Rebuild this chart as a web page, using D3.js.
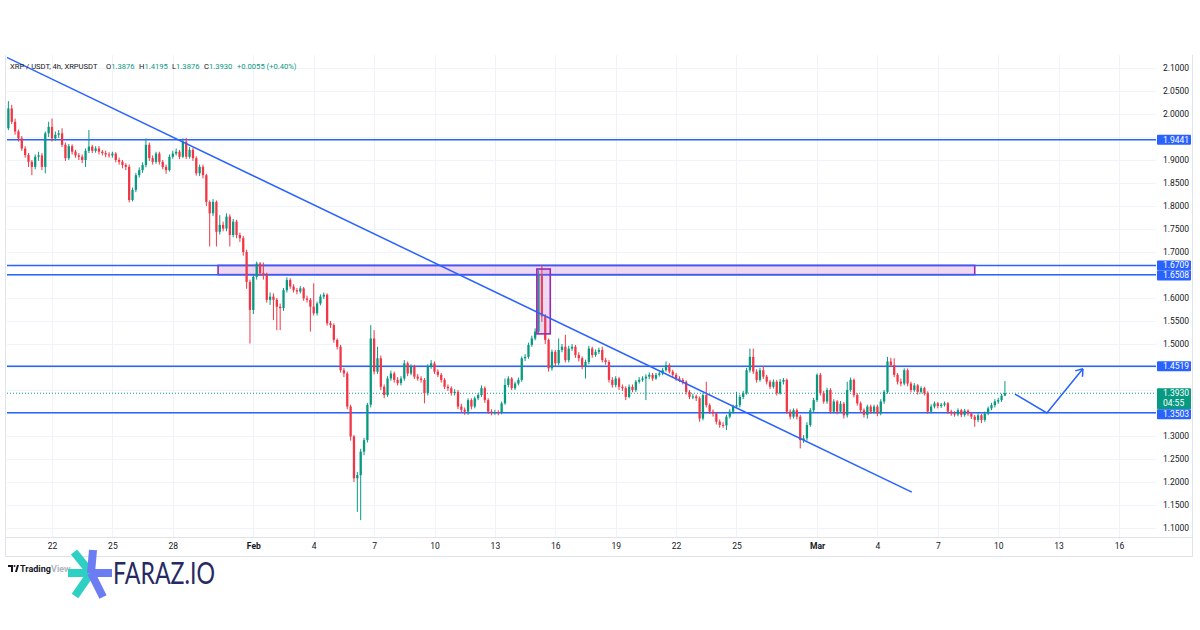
<!DOCTYPE html>
<html>
<head>
<meta charset="utf-8">
<style>
  body { margin: 0; background: #fff; }
  svg { display: block; font-family: Roboto, "Liberation Sans", Arial, sans-serif; }
</style>
</head>
<body>
<svg id="chart" width="1200" height="630"></svg>
<script src="https://cdn.jsdelivr.net/npm/d3@7"></script>
<script>
// XRP/USDT 4h candles. open of a candle = close of the one before
var firstCandle = "2025-01-19T20:00:00Z";
var firstOpen = 1.969;
var closes = [
  2.012,1.983,1.962,1.947,1.925,1.911,1.896,1.885,1.907,1.910,
  1.885,1.958,1.972,1.947,1.955,1.958,1.933,1.904,1.930,1.918,
  1.910,1.907,1.900,1.920,1.929,1.920,1.925,1.918,1.915,1.912,
  1.910,1.914,1.900,1.896,1.889,1.885,1.813,1.835,1.867,1.878,
  1.889,1.933,1.904,1.896,1.914,1.896,1.885,1.878,1.907,1.914,
  1.918,1.907,1.940,1.907,1.922,1.904,1.871,1.885,1.867,1.809,
  1.784,1.809,1.744,1.759,1.751,1.777,1.737,1.766,1.737,1.730,
  1.700,1.635,1.574,1.646,1.675,1.654,1.650,1.596,1.603,1.596,
  1.581,1.578,1.617,1.639,1.625,1.617,1.614,1.621,1.599,1.596,
  1.581,1.567,1.588,1.603,1.607,1.545,1.541,1.509,1.494,1.443,
  1.436,1.364,1.299,1.208,1.215,1.266,1.291,1.368,1.512,1.440,
  1.469,1.407,1.389,1.425,1.436,1.422,1.415,1.425,1.458,1.436,
  1.451,1.429,1.425,1.422,1.393,1.451,1.458,1.440,1.433,1.422,
  1.407,1.404,1.393,1.396,1.364,1.357,1.353,1.378,1.364,1.382,
  1.389,1.404,1.378,1.353,1.350,1.352,1.351,1.371,1.411,1.425,
  1.404,1.414,1.422,1.469,1.472,1.498,1.512,1.527,1.650,1.560,
  1.509,1.447,1.483,1.458,1.487,1.494,1.465,1.490,1.494,1.476,
  1.469,1.451,1.461,1.490,1.476,1.483,1.487,1.465,1.461,1.422,
  1.411,1.425,1.407,1.404,1.385,1.407,1.400,1.418,1.422,1.425,
  1.429,1.433,1.425,1.433,1.436,1.443,1.454,1.440,1.433,1.425,
  1.422,1.418,1.396,1.385,1.386,1.382,1.338,1.389,1.367,1.353,
  1.349,1.331,1.324,1.323,1.342,1.353,1.364,1.367,1.385,1.393,
  1.443,1.472,1.440,1.422,1.443,1.429,1.418,1.407,1.418,1.393,
  1.418,1.422,1.353,1.342,1.356,1.342,1.291,1.295,1.324,1.356,
  1.378,1.433,1.393,1.375,1.400,1.353,1.375,1.353,1.370,1.345,
  1.400,1.422,1.389,1.371,1.356,1.346,1.364,1.353,1.364,1.349,
  1.375,1.396,1.462,1.454,1.433,1.418,1.414,1.443,1.414,1.400,
  1.410,1.396,1.404,1.393,1.353,1.364,1.371,1.365,1.368,1.371,
  1.353,1.349,1.347,1.356,1.346,1.355,1.349,1.342,1.335,1.345,
  1.335,1.349,1.360,1.367,1.375,1.378,1.3876,1.3930
];
var highs = [
  2.028,2.020,1.990,1.966,1.952,1.930,1.915,1.900,1.912,1.918,
  1.915,1.962,1.983,1.990,1.962,1.965,1.969,1.938,1.935,1.934,
  1.922,1.915,1.912,1.925,1.965,1.933,1.930,1.930,1.922,1.920,
  1.917,1.918,1.917,1.905,1.900,1.893,1.890,1.840,1.872,1.884,
  1.895,1.947,1.938,1.910,1.918,1.918,1.900,1.890,1.912,1.920,
  1.925,1.922,1.947,1.948,1.928,1.926,1.908,1.890,1.890,1.870,
  1.812,1.815,1.812,1.780,1.766,1.784,1.782,1.772,1.770,1.742,
  1.735,1.705,1.640,1.650,1.679,1.678,1.677,1.655,1.612,1.610,
  1.600,1.588,1.622,1.645,1.643,1.630,1.622,1.626,1.624,1.605,
  1.600,1.632,1.592,1.608,1.612,1.610,1.550,1.545,1.512,1.498,
  1.448,1.440,1.368,1.302,1.222,1.272,1.296,1.372,1.541,1.530,
  1.494,1.475,1.412,1.430,1.442,1.440,1.428,1.430,1.465,1.462,
  1.456,1.455,1.435,1.430,1.426,1.456,1.465,1.462,1.445,1.437,
  1.426,1.412,1.408,1.402,1.400,1.370,1.362,1.382,1.382,1.386,
  1.394,1.410,1.408,1.382,1.358,1.357,1.356,1.375,1.425,1.430,
  1.428,1.418,1.427,1.473,1.478,1.503,1.518,1.534,1.660,1.671,
  1.565,1.512,1.488,1.487,1.512,1.500,1.520,1.496,1.500,1.498,
  1.482,1.473,1.466,1.496,1.494,1.488,1.492,1.494,1.470,1.465,
  1.428,1.430,1.428,1.412,1.408,1.412,1.412,1.422,1.428,1.430,
  1.434,1.438,1.437,1.437,1.440,1.448,1.462,1.458,1.444,1.437,
  1.430,1.426,1.421,1.400,1.392,1.390,1.386,1.393,1.418,1.371,
  1.358,1.352,1.336,1.330,1.346,1.358,1.368,1.396,1.390,1.398,
  1.448,1.490,1.490,1.445,1.448,1.452,1.433,1.422,1.423,1.422,
  1.424,1.426,1.425,1.358,1.360,1.360,1.346,1.302,1.330,1.361,
  1.383,1.436,1.437,1.398,1.405,1.404,1.380,1.378,1.376,1.374,
  1.418,1.427,1.425,1.393,1.375,1.360,1.368,1.368,1.368,1.368,
  1.380,1.400,1.472,1.470,1.469,1.437,1.425,1.447,1.447,1.418,
  1.415,1.413,1.408,1.407,1.397,1.369,1.375,1.374,1.372,1.375,
  1.374,1.357,1.354,1.360,1.359,1.359,1.358,1.352,1.346,1.349,
  1.348,1.353,1.364,1.372,1.380,1.383,1.392,1.4195
];
var lows = [
  1.965,1.978,1.955,1.940,1.920,1.905,1.885,1.867,1.880,1.898,
  1.878,1.871,1.950,1.940,1.942,1.948,1.928,1.898,1.900,1.912,
  1.905,1.900,1.893,1.885,1.915,1.915,1.916,1.912,1.910,1.906,
  1.905,1.905,1.895,1.890,1.882,1.878,1.808,1.810,1.830,1.862,
  1.872,1.884,1.898,1.890,1.892,1.890,1.880,1.870,1.875,1.903,
  1.910,1.902,1.904,1.902,1.903,1.898,1.866,1.865,1.860,1.800,
  1.712,1.778,1.712,1.738,1.745,1.745,1.712,1.732,1.730,1.722,
  1.692,1.620,1.501,1.565,1.640,1.648,1.640,1.590,1.585,1.552,
  1.530,1.530,1.572,1.612,1.620,1.612,1.608,1.610,1.594,1.590,
  1.527,1.562,1.562,1.584,1.598,1.540,1.535,1.503,1.488,1.438,
  1.428,1.358,1.290,1.200,1.135,1.117,1.258,1.286,1.362,1.434,
  1.435,1.400,1.382,1.385,1.420,1.416,1.410,1.410,1.420,1.430,
  1.432,1.424,1.420,1.416,1.371,1.388,1.446,1.435,1.428,1.416,
  1.402,1.398,1.388,1.388,1.358,1.350,1.346,1.346,1.358,1.360,
  1.378,1.385,1.372,1.348,1.345,1.346,1.345,1.347,1.368,1.406,
  1.400,1.400,1.410,1.418,1.463,1.468,1.494,1.508,1.523,1.548,
  1.500,1.440,1.442,1.452,1.454,1.482,1.460,1.460,1.485,1.470,
  1.462,1.445,1.425,1.456,1.470,1.472,1.478,1.460,1.455,1.416,
  1.405,1.406,1.400,1.398,1.378,1.382,1.395,1.396,1.414,1.418,
  1.378,1.424,1.420,1.422,1.429,1.432,1.440,1.436,1.428,1.420,
  1.417,1.412,1.390,1.380,1.380,1.376,1.331,1.334,1.362,1.348,
  1.342,1.325,1.318,1.318,1.313,1.338,1.349,1.360,1.362,1.380,
  1.390,1.438,1.435,1.416,1.418,1.424,1.412,1.402,1.403,1.388,
  1.390,1.412,1.348,1.336,1.338,1.336,1.273,1.285,1.290,1.320,
  1.352,1.374,1.388,1.370,1.370,1.348,1.349,1.347,1.350,1.338,
  1.340,1.396,1.384,1.366,1.350,1.340,1.338,1.348,1.349,1.343,
  1.345,1.370,1.392,1.450,1.428,1.412,1.408,1.410,1.408,1.395,
  1.396,1.390,1.392,1.388,1.348,1.349,1.360,1.360,1.361,1.364,
  1.348,1.344,1.342,1.343,1.341,1.342,1.344,1.337,1.320,1.330,
  1.328,1.331,1.345,1.356,1.362,1.370,1.374,1.3876
];

// drawings on the chart
var levels = [1.9441, 1.6709, 1.6508, 1.4519, 1.3503];
var trendTimes = ["2025-01-19T17:00:00Z", "2025-03-05T17:00:00Z"];
var trendPrices = [2.124, 1.178];
var zoneTimes = ["2025-01-30T06:00:00Z", "2025-03-08T20:00:00Z"];
var zonePrices = [1.6709, 1.6508];
var spikeTimes = ["2025-02-15T02:00:00Z", "2025-02-15T18:00:00Z"];
var spikePrices = [1.663, 1.522];
var pathTimes = ["2025-03-10T20:00:00Z", "2025-03-12T10:00:00Z", "2025-03-14T05:00:00Z"];
var pathPrices = [1.391, 1.350, 1.446];

var tickDates = ["2025-01-22","2025-01-25","2025-01-28","2025-02-01","2025-02-04","2025-02-07",
  "2025-02-10","2025-02-13","2025-02-16","2025-02-19","2025-02-22","2025-02-25","2025-03-01",
  "2025-03-04","2025-03-07","2025-03-10","2025-03-13","2025-03-16"];
var priceTicks = [1.10,1.15,1.20,1.25,1.30,1.35,1.40,1.45,1.50,1.55,1.60,1.65,1.70,1.75,1.80,1.85,1.90,1.95,2.00,2.05,2.10];

var header = {pair: "XRP / USDT, 4h, XRPUSDT", o: "1.3876", h: "1.4195", l: "1.3876", c: "1.3930", chg: "+0.0055 (+0.40%)"};
var lastClose = 1.3930, countdown = "04:55";

var up = "#089981", down = "#f23645", blue = "#2962ff", textCol = "#131722", gridCol = "#f0f3fa";
var plot = {left: 7, right: 1156, top: 55, bottom: 537};

var svg = d3.select("#chart");
svg.append("rect").attr("width", 1200).attr("height", 630).attr("fill", "#fff");

var x = d3.scaleUtc()
  .domain([new Date("2025-01-22T00:00:00Z"), new Date("2025-03-16T00:00:00Z")])
  .range([52, 1119]);
var y = d3.scaleLinear().domain([1.1, 2.1]).range([528, 68]);

var step = 4 * 3600 * 1000;
var t0 = new Date(firstCandle).getTime();
var candles = closes.map(function(c, i) {
  return {t: new Date(t0 + i * step), o: i ? closes[i - 1] : firstOpen, h: highs[i], l: lows[i], c: c};
});
var candleW = (x(new Date(t0 + step)) - x(new Date(t0))) * 0.68;

svg.append("clipPath").attr("id", "clip").append("rect")
  .attr("x", plot.left).attr("y", plot.top - 5)
  .attr("width", plot.right - plot.left).attr("height", plot.bottom - plot.top + 5);

// grid
var grid = svg.append("g");
grid.selectAll(".vg").data(tickDates).enter().append("line")
  .attr("x1", function(d) { return Math.round(x(new Date(d))) + 0.5; })
  .attr("x2", function(d) { return Math.round(x(new Date(d))) + 0.5; })
  .attr("y1", plot.top).attr("y2", plot.bottom)
  .attr("stroke", gridCol);
grid.selectAll(".hg").data(priceTicks).enter().append("line")
  .attr("x1", plot.left).attr("x2", plot.right)
  .attr("y1", function(d) { return Math.round(y(d)) + 0.5; })
  .attr("y2", function(d) { return Math.round(y(d)) + 0.5; })
  .attr("stroke", gridCol);

// frame
svg.append("line").attr("x1", 5).attr("x2", 1193).attr("y1", plot.bottom + 0.5).attr("y2", plot.bottom + 0.5).attr("stroke", "#e0e3eb");
svg.append("line").attr("x1", 5).attr("x2", 1193).attr("y1", 556.5).attr("y2", 556.5).attr("stroke", "#e0e3eb");
svg.append("line").attr("x1", 5.5).attr("x2", 5.5).attr("y1", plot.top).attr("y2", 556.5).attr("stroke", "#e0e3eb");
svg.append("line").attr("x1", 1192.5).attr("x2", 1192.5).attr("y1", plot.top).attr("y2", 556.5).attr("stroke", "#e0e3eb");

var g = svg.append("g").attr("clip-path", "url(#clip)");

// purple zone
g.append("rect")
  .attr("x", x(new Date(zoneTimes[0]))).attr("y", y(zonePrices[0]))
  .attr("width", x(new Date(zoneTimes[1])) - x(new Date(zoneTimes[0])))
  .attr("height", y(zonePrices[1]) - y(zonePrices[0]))
  .attr("fill", "rgba(186,104,200,0.25)").attr("stroke", "#9c27b0").attr("stroke-width", 1.6);

// levels
g.selectAll(".lvl").data(levels).enter().append("line")
  .attr("x1", plot.left).attr("x2", plot.right)
  .attr("y1", function(d) { return y(d); }).attr("y2", function(d) { return y(d); })
  .attr("stroke", blue).attr("stroke-width", 1.5);

// last price dotted line
g.append("line").attr("x1", plot.left).attr("x2", plot.right)
  .attr("y1", y(lastClose)).attr("y2", y(lastClose))
  .attr("stroke", up).attr("stroke-width", 1).attr("stroke-dasharray", "1,2");

// candles
var cg = g.append("g");
cg.selectAll(".wick").data(candles).enter().append("line")
  .attr("x1", function(d) { return x(d.t); }).attr("x2", function(d) { return x(d.t); })
  .attr("y1", function(d) { return y(d.h); }).attr("y2", function(d) { return y(d.l); })
  .attr("stroke", function(d) { return d.c >= d.o ? up : down; }).attr("stroke-width", 1);
cg.selectAll(".body").data(candles).enter().append("rect")
  .attr("x", function(d) { return x(d.t) - candleW / 2; })
  .attr("width", candleW)
  .attr("y", function(d) { return y(Math.max(d.o, d.c)); })
  .attr("height", function(d) { return Math.max(1, Math.abs(y(d.o) - y(d.c))); })
  .attr("fill", function(d) { return d.c >= d.o ? up : down; });

// spike box
g.append("rect")
  .attr("x", x(new Date(spikeTimes[0]))).attr("y", y(spikePrices[0]))
  .attr("width", x(new Date(spikeTimes[1])) - x(new Date(spikeTimes[0])))
  .attr("height", y(spikePrices[1]) - y(spikePrices[0]))
  .attr("fill", "rgba(186,104,200,0.25)").attr("stroke", "#9c27b0").attr("stroke-width", 1.6);

// trend line
g.append("line")
  .attr("x1", x(new Date(trendTimes[0]))).attr("y1", y(trendPrices[0]))
  .attr("x2", x(new Date(trendTimes[1]))).attr("y2", y(trendPrices[1]))
  .attr("stroke", blue).attr("stroke-width", 1.5);

// projected path with arrow head
var pts = pathTimes.map(function(t, i) { return [x(new Date(t)), y(pathPrices[i])]; });
g.append("path").attr("d", d3.line()(pts)).attr("fill", "none").attr("stroke", blue).attr("stroke-width", 1.5);
var a = pts[pts.length - 1], b = pts[pts.length - 2];
var ang = Math.atan2(a[1] - b[1], a[0] - b[0]);
[Math.PI * 0.8, -Math.PI * 0.8].forEach(function(da) {
  g.append("line").attr("x1", a[0]).attr("y1", a[1])
    .attr("x2", a[0] + 8 * Math.cos(ang + da)).attr("y2", a[1] + 8 * Math.sin(ang + da))
    .attr("stroke", blue).attr("stroke-width", 1.5);
});

// price labels on the scale, pushed apart when they collide
var labels = levels.map(function(v) { return {v: v, top: y(v) - 5, h: 10, fill: blue, lines: [v.toFixed(4)]}; });
labels.push({v: lastClose, top: y(lastClose) - 5, h: 21, fill: up, lines: [lastClose.toFixed(4), countdown], first: true});
labels.sort(function(p, q) { return p.top - q.top; });
for (var i = 1; i < labels.length; i++) {
  var prev = labels[i - 1];
  if (labels[i].top < prev.top + prev.h) {
    if (labels[i].first) { prev.top = labels[i].top - prev.h; }
    else { labels[i].top = prev.top + prev.h; }
  }
}

// axes; tick labels that sit under a price label are hidden, as on the scale of the reference
function covered(v) {
  var yy = y(v);
  return labels.some(function(L) { return yy > L.top - 4 && yy < L.top + L.h + 4; });
}
var yAxis = d3.axisRight(y).tickValues(priceTicks.filter(function(v) { return !covered(v); }))
  .tickSize(0).tickPadding(7).tickFormat(d3.format(".4f"));
var ya = svg.append("g").attr("transform", "translate(1156,0)").call(yAxis);
ya.select(".domain").remove();
ya.selectAll("text").attr("fill", textCol).style("font-size", "8.5px").style("font-family", "Roboto, Arial, sans-serif");

var fmtMonth = d3.utcFormat("%b"), fmtDay = d3.utcFormat("%-d");
var xAxis = d3.axisBottom(x).tickValues(tickDates.map(function(d) { return new Date(d); }))
  .tickSize(0).tickPadding(6)
  .tickFormat(function(d) { return d.getUTCDate() === 1 ? fmtMonth(d) : fmtDay(d); });
var xa = svg.append("g").attr("transform", "translate(0," + plot.bottom + ")").call(xAxis);
xa.select(".domain").remove();
xa.selectAll("text").attr("fill", textCol).style("font-size", "8.5px").style("font-family", "Roboto, Arial, sans-serif")
  .style("font-weight", function(d) { return d.getUTCDate() === 1 ? "bold" : "normal"; });

var lg = svg.append("g");
labels.forEach(function(L) {
  lg.append("rect").attr("x", 1157).attr("y", L.top).attr("width", 34).attr("height", L.h)
    .attr("fill", L.fill).attr("rx", 1);
  L.lines.forEach(function(s, k) {
    lg.append("text").attr("x", 1163).attr("y", L.top + 8 + k * 9.5)
      .attr("fill", "#fff").style("font-size", "8.5px").text(s);
  });
});

// header
var hg = svg.append("g").style("font-size", "7.6px");
hg.append("text").attr("x", 10).attr("y", 69).attr("fill", textCol).text(header.pair);
[["O", header.o, 106], ["H", header.h, 139], ["L", header.l, 172], ["C", header.c, 204]].forEach(function(p) {
  var t = hg.append("text").attr("x", p[2]).attr("y", 69).attr("fill", textCol);
  t.append("tspan").text(p[0]);
  t.append("tspan").attr("fill", up).text(p[1]);
});
hg.append("text").attr("x", 237).attr("y", 69).attr("fill", up).text(header.chg);

// TradingView mark
var tv = svg.append("g").attr("transform", "translate(8,565)");
tv.append("path").attr("d", "M0,0H5V7H3V2H0Z").attr("fill", textCol);
tv.append("circle").attr("cx", 6.5).attr("cy", 1).attr("r", 1).attr("fill", textCol);
tv.append("path").attr("d", "M7,7L9,0H11L9,7Z").attr("fill", textCol);
svg.append("text").attr("x", 20).attr("y", 572).attr("fill", textCol)
  .style("font-size", "9px").style("font-weight", "bold").text("Trading");
svg.append("text").attr("x", 51).attr("y", 572).attr("fill", "#b2b5be")
  .style("font-size", "9px").style("font-weight", "bold").text("View");

// FARAZ.IO logo: six arms around one centre
var cx0 = 91, cy0 = 573;
var arms = [[68, 573, "#2fd0c4"], [74, 552, "#2fd0c4"], [75, 596, "#2fd0c4"],
            [93, 550, "#6c7cf3"], [112, 573, "#6c7cf3"], [103, 597, "#6c7cf3"]];
var lg2 = svg.append("g");
arms.forEach(function(arm) {
  lg2.append("line").attr("x1", cx0).attr("y1", cy0).attr("x2", arm[0]).attr("y2", arm[1])
    .attr("stroke", arm[2]).attr("stroke-width", 8).attr("stroke-linecap", "butt");
});
svg.append("text").attr("x", 113).attr("y", 584).attr("fill", "#262a62")
  .attr("textLength", 102).attr("lengthAdjust", "spacingAndGlyphs")
  .style("font-family", "Lato, 'Open Sans', sans-serif").style("font-weight", 400)
  .style("font-size", "30px").text("FARAZ.IO");
</script>
</body>
</html>
